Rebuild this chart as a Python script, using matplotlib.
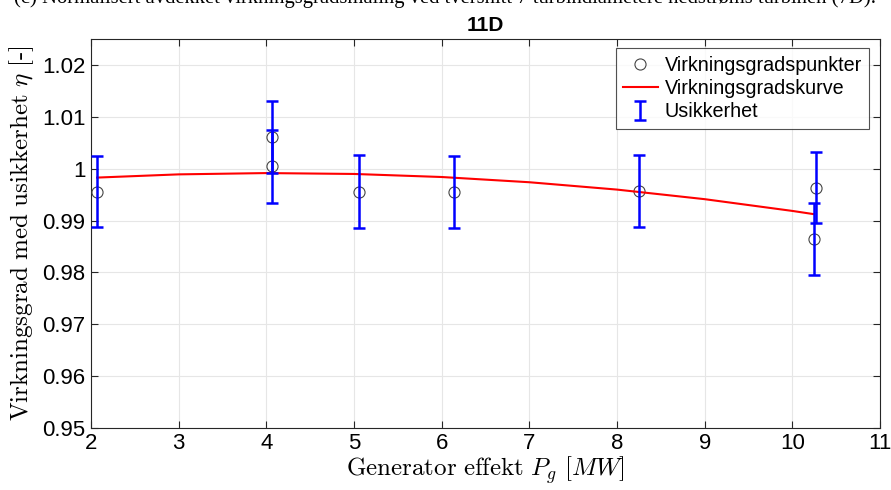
import numpy as np
import matplotlib
matplotlib.use("Agg")
import matplotlib.pyplot as plt

# ---- data ----
p_points = [2.07, 4.06, 4.06, 5.06, 6.14, 8.25, 10.27, 10.25]
eta_points = [0.9956, 1.0062, 1.0005, 0.9956, 0.9955, 0.9957, 0.9964, 0.9865]
usikkerhet = [0.0069, 0.0070, 0.0070, 0.0070, 0.0070, 0.0070, 0.0069, 0.0069]

p_curve = [2.07, 3.0, 4.0, 5.0, 6.0, 7.0, 8.0, 9.0, 10.0, 10.24]
eta_curve = [0.99833, 0.99895, 0.99920, 0.99903, 0.99844, 0.99743, 0.99601, 0.99416, 0.99189, 0.99128]

x_ticks = [2, 3, 4, 5, 6, 7, 8, 9, 10, 11]
y_ticks = [0.95, 0.96, 0.97, 0.98, 0.99, 1.00, 1.01, 1.02]
y_ticklabels = ["0.95", "0.96", "0.97", "0.98", "0.99", "1", "1.01", "1.02"]

plt.rcParams["mathtext.fontset"] = "cm"

fig = plt.figure(figsize=(8.91, 4.90), dpi=100)
ax = fig.add_axes([91/891, 1 - 427.8/490, 789/891, 388.3/490])

ax.plot(p_points, eta_points, linestyle="none", marker="o", markersize=8,
        markerfacecolor="none", markeredgecolor="#444444", markeredgewidth=0.8,
        label="Virkningsgradspunkter", zorder=3)
ax.plot(p_curve, eta_curve, color="red", linewidth=1.5,
        label="Virkningsgradskurve", zorder=4)
ax.errorbar(p_points, eta_points, yerr=usikkerhet, fmt="none", ecolor="blue",
            elinewidth=1.8, capsize=4, capthick=1.8, label="Usikkerhet", zorder=5)

ax.set_xlim(2, 11)
ax.set_ylim(0.95, 1.025)
ax.set_xticks(x_ticks)
ax.set_xticklabels([str(t) for t in x_ticks])
ax.set_yticks(y_ticks)
ax.set_yticklabels(y_ticklabels)

ax.grid(True, color="#e6e6e6", linewidth=0.8)
ax.set_axisbelow(True)
for s in ax.spines.values():
    s.set_color("#262626")
    s.set_linewidth(0.8)
ax.tick_params(direction="in", top=True, right=True, length=5, width=0.8,
               labelsize=16, colors="#262626", labelcolor="black", pad=4)
for lbl in ax.get_xticklabels() + ax.get_yticklabels():
    lbl.set_family("Liberation Sans")

ax.set_xlabel(r"$\mathrm{Generator\ effekt}\ P_g\ [MW]$", fontsize=18, labelpad=0)
ax.set_ylabel(r"$\mathrm{Virkningsgrad\ med\ usikkerhet}\ \eta\ [\text{-}]$", fontsize=18, labelpad=4)
ax.set_title("11D", fontsize=15, fontweight="bold", family="Liberation Sans", pad=6)

leg = ax.legend(loc="upper right", bbox_to_anchor=(0.9864, 0.9773), borderaxespad=0,
                prop={"family": "Liberation Sans", "size": 14.2}, frameon=True,
                fancybox=False, edgecolor="#262626", handlelength=1.75,
                borderpad=0.38, labelspacing=0.22, handletextpad=0.35)
leg.get_frame().set_linewidth(0.8)

fig.text(0.5, 1.0 + 2/490, "(c) Normalisert avdekket virkningsgradsmåling ved tversnitt 7 turbindiametere nedstrøms turbinen (7D).",
         ha="center", va="center", fontsize=14.9, family="Liberation Serif")

fig.savefig("out.png", dpi=100)
